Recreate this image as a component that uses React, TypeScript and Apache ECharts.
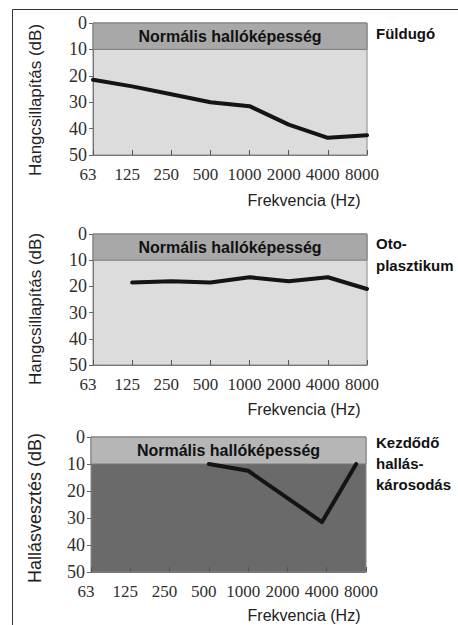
import React, { useEffect, useRef } from "react";
import * as echarts from "echarts";

// ---- data ----
const freqLabels = ["63", "125", "250", "500", "1000", "2000", "4000", "8000"];
// x positions are octave indices (0 = 63 Hz ... 7 = 8000 Hz)
const earplugX = [0, 1, 2, 3, 4, 5, 6, 7];
const earplugDb = [21.5, 24, 27, 30, 31.5, 38.5, 43.5, 42.5];
const otoX = [1, 2, 3, 4, 5, 6, 7];
const otoDb = [18.5, 18, 18.5, 16.5, 18, 16.5, 21];
const lossX = [3, 4, 5.88, 6.75];
const lossDb = [10, 12.5, 31.5, 10];
const normalBand = [0, 10];
const yRange = [0, 50];
const bandText = "Normális hallóképesség";
const xName = "Frekvencia (Hz)";
const yNames = ["Hangcsillapítás (dB)", "Hangcsillapítás (dB)", "Hallásvesztés (dB)"];
const panelTitles = ["Füldugó", "Oto-\nplasztikum", "Kezdődő\nhallás-\nkárosodás"];

const seriesX = [earplugX, otoX, lossX];
const seriesY = [earplugDb, otoDb, lossDb];

// ---- layout / styles ----
const grids = [
  { left: 93, top: 23, width: 274, height: 132 },
  { left: 93, top: 234, width: 274, height: 131 },
  { left: 91, top: 437, width: 275, height: 135 },
];
const plotBg = ["#dcdcdc", "#dcdcdc", "#6a6a6a"];
const bandBg = ["#a8a8a8", "#a8a8a8", "#b6b6b6"];
const yNamePos = [
  { x: 35, y: 100, size: 17 },
  { x: 35, y: 309, size: 17 },
  { x: 35, y: 508, size: 18 },
];
const xNameY = [200, 409, 615];
const titleTop = [{ y: 22, lh: 22 }, { y: 232, lh: 22 }, { y: 432, lh: 21 }];

export default function App() {
  const ref = useRef<HTMLDivElement>(null);
  useEffect(() => {
    if (!ref.current) return;
    const chart = echarts.init(ref.current, null, { renderer: "svg" });
    const serif = "Liberation Serif";
    const sans = "Liberation Sans";

    const option: any = {
      animation: false,
      backgroundColor: "#ffffff",
      grid: grids.map((g, i) => ({
        ...g,
        show: true,
        backgroundColor: plotBg[i],
        borderColor: "#888",
        borderWidth: 1,
      })),
      xAxis: grids.map((_, i) => ({
        type: "value",
        gridIndex: i,
        min: 0,
        max: freqLabels.length - 1,
        interval: 1,
        axisLine: { show: true, onZero: false, lineStyle: { color: "#777", width: 1 } },
        axisTick: { show: true, inside: true, length: 5, lineStyle: { color: "#555" } },
        splitLine: { show: false },
        axisLabel: {
          formatter: (v: number) => freqLabels[Math.round(v)] ?? "",
          fontFamily: serif,
          fontSize: 17,
          color: "#2e2e2e",
          margin: 11,
          padding: [0, 10, 0, 0],
        },
      })),
      yAxis: grids.map((_, i) => ({
        type: "value",
        gridIndex: i,
        inverse: true,
        min: yRange[0],
        max: yRange[1],
        interval: 10,
        axisLine: { show: true, onZero: false, lineStyle: { color: "#777", width: 1 } },
        axisTick: { show: true, inside: false, length: 4, lineStyle: { color: "#666" } },
        splitLine: { show: false },
        axisLabel: {
          fontFamily: serif,
          fontSize: 18,
          color: "#2e2e2e",
          margin: 6,
        },
      })),
      series: grids.map((_, i) => ({
        type: "line",
        xAxisIndex: i,
        yAxisIndex: i,
        data: seriesX[i].map((x, k) => [x, seriesY[i][k]]),
        symbol: "none",
        lineStyle: { color: "#141414", width: 4, join: "round", cap: "round" },
        z: 5,
        markArea: {
          silent: true,
          itemStyle: { color: bandBg[i], borderColor: "#7a7a7a", borderWidth: 1 },
          label: {
            show: true,
            position: "inside",
            formatter: bandText,
            fontFamily: sans,
            fontSize: 16,
            fontWeight: "bold",
            color: "#111",
          },
          data: [[{ yAxis: normalBand[0] }, { yAxis: normalBand[1] }]],
        },
      })),
      graphic: [
        { type: "line", shape: { x1: 12.5, y1: 9.5, x2: 12.5, y2: 625 }, style: { stroke: "#333", lineWidth: 1 } },
        { type: "line", shape: { x1: 12.5, y1: 9.5, x2: 458, y2: 9.5 }, style: { stroke: "#333", lineWidth: 1 } },
        ...yNames.map((t, i) => ({
          type: "text",
          x: yNamePos[i].x,
          y: yNamePos[i].y,
          rotation: Math.PI / 2,
          style: {
            text: t,
            fontFamily: sans,
            fontSize: yNamePos[i].size,
            fill: "#222",
            align: "center",
            verticalAlign: "middle",
          },
        })),
        ...xNameY.map((y) => ({
          type: "text",
          x: 304,
          y,
          style: {
            text: xName,
            fontFamily: sans,
            fontSize: 16,
            fill: "#222",
            align: "center",
            verticalAlign: "middle",
          },
        })),
        ...panelTitles.map((t, i) => ({
          type: "text",
          x: 376,
          y: titleTop[i].y,
          style: {
            text: t,
            fontFamily: sans,
            fontSize: 15,
            fontWeight: "bold",
            lineHeight: titleTop[i].lh,
            fill: "#111",
            align: "left",
            verticalAlign: "top",
          },
        })),
      ],
    };
    chart.setOption(option);
    return () => chart.dispose();
  }, []);

  return (
    <div
      ref={ref}
      style={{ position: "fixed", left: 0, top: 0, width: 458, height: 625, background: "#fff" }}
    />
  );
}
